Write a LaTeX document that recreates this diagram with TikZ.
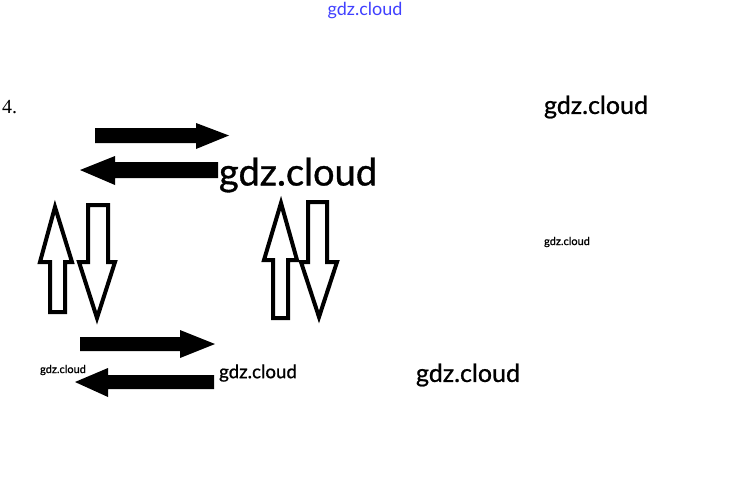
\documentclass[tikz,border=0pt]{standalone}
\usepackage{fontspec}
\setmainfont{Lato}
\newfontfamily\wmfont[FakeBold=0.9]{Lato}
\newfontfamily\serifnum{Liberation Serif}
\begin{document}
\begin{tikzpicture}[x=1pt,y=-1pt,
  solidarrow/.style={fill=black,draw=none},
  hollowarrow/.style={draw=black,line width=4pt,line join=miter,fill=white},
  wm/.style={inner sep=0pt,anchor=center,text=black}]
\useasboundingbox (0,0) rectangle (730,492);
% top watermark
\node[wm,text=blue!75!white,font=\fontsize{18}{18}\selectfont] (wtop) at (365,11) {gdz.cloud};
\node[inner sep=0pt,anchor=west,font=\serifnum\fontsize{20}{20}\selectfont] (num) at (2,107) {4.};
% top horizontal arrows
\fill[solidarrow] (95,128) -- (196,128) -- (196,123) -- (229,135.5) -- (196,149) -- (196,143) -- (95,143) -- cycle;
\fill[solidarrow] (218,162) -- (115,162) -- (115,156) -- (80,170) -- (115,185) -- (115,178) -- (218,178) -- cycle;
% bottom horizontal arrows
\fill[solidarrow] (80,337) -- (180,337) -- (180,330) -- (215,344) -- (180,358) -- (180,351) -- (80,351) -- cycle;
\fill[solidarrow] (214,375) -- (108,375) -- (108,368) -- (75,382) -- (108,397) -- (108,389) -- (214,389) -- cycle;
% left vertical arrows
\draw[hollowarrow] (50,312) -- (50,262) -- (40,262) -- (55,207) -- (72,262) -- (65,262) -- (65,312) -- cycle;
\draw[hollowarrow] (88,205) -- (108,205) -- (108,262) -- (115,262) -- (97,318) -- (79,262) -- (88,262) -- cycle;
% right vertical arrows
\draw[hollowarrow] (273,318) -- (273,260) -- (264,260) -- (281,203) -- (297,260) -- (288,260) -- (288,318) -- cycle;
\draw[hollowarrow] (308,202) -- (327,202) -- (327,262) -- (337,262) -- (319,317) -- (301,262) -- (308,262) -- cycle;
% watermarks
\node[wm,font=\wmfont\fontsize{25}{25}\selectfont] (w1) at (596,107) {gdz.cloud};
\node[wm,font=\wmfont\fontsize{38}{38}\selectfont] (w2) at (298,175) {gdz.cloud};
\node[wm,font=\wmfont\fontsize{11}{11}\selectfont] (w3) at (567,242) {gdz.cloud};
\node[wm,font=\wmfont\fontsize{11}{11}\selectfont] (w4) at (63,370) {gdz.cloud};
\node[wm,font=\wmfont\fontsize{18.7}{18.7}\selectfont] (w5) at (258,373) {gdz.cloud};
\node[wm,font=\wmfont\fontsize{25}{25}\selectfont] (w6) at (468,375) {gdz.cloud};
\end{tikzpicture}
\end{document}
